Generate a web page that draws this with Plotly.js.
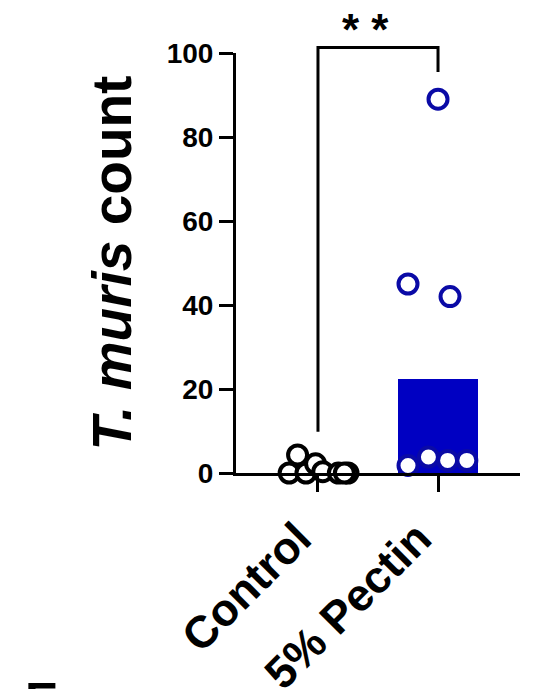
<!DOCTYPE html>
<html>
<head>
<meta charset="utf-8">
<script src="https://cdn.plot.ly/plotly-3.0.1.min.js"></script>
<style>
  html, body { margin: 0; padding: 0; background: #fff; }
  #chart { width: 539px; height: 689px; }
</style>
</head>
<body>
<div id="chart"></div>
<script>
// group labels and bar heights (means)
const groups = ['Control', '5% Pectin'];
const barMeans = [0.8, 22.5];

// individual animals
const controlCounts = [4.3, 0, 0, 2.2, 0.3, 0, 0, 0];
const controlJitter = [-0.17, -0.24, -0.1, -0.02, 0.04, 0.17, 0.25, 0.22];
const pectinCounts = [89, 45, 42, 1.8, 3.8, 3, 3];
const pectinJitter = [0, -0.25, 0.1, -0.25, -0.08, 0.08, 0.24];

const blue = '#0000c2';
const ringBlue = '#0a0aa6';
const font = 'Liberation Sans, Arial, sans-serif';

const xRange = [-0.683, 1.683];
const yRange = [0, 100];

function pointTrace(counts, jitter, groupIdx, lineColor) {
    return {
        type: 'scatter',
        mode: 'markers',
        x: counts.map((_, i) => groupIdx + jitter[i]),
        y: counts,
        cliponaxis: false,
        hoverinfo: 'y',
        marker: {
            symbol: 'circle',
            size: 19,
            color: '#ffffff',
            line: { color: lineColor, width: 4 }
        }
    };
}

const data = [
    {
        type: 'bar',
        x: groups.map((_, i) => i),
        y: barMeans,
        width: 0.667,
        marker: { color: ['#ffffff', blue], line: { width: 0 } },
        hoverinfo: 'y'
    },
    pointTrace(controlCounts, controlJitter, 0, '#000000'),
    pointTrace(pectinCounts, pectinJitter, 1, ringBlue)
];

// paper coordinates for the significance bracket (drawn above the axis range)
const px = v => (v - xRange[0]) / (xRange[1] - xRange[0]);
const py = v => (v - yRange[0]) / (yRange[1] - yRange[0]);
const bracket = `M ${px(0)} ${py(9.8)} L ${px(0)} ${py(101.3)} L ${px(1)} ${py(101.3)} L ${px(1)} ${py(95.5)}`;

const layout = {
    width: 539,
    height: 689,
    margin: { l: 236, r: 19, t: 53, b: 216 },
    paper_bgcolor: '#ffffff',
    plot_bgcolor: '#ffffff',
    showlegend: false,
    bargap: 0,
    font: { family: font, color: '#000000' },
    xaxis: {
        range: xRange,
        showgrid: false,
        zeroline: false,
        showline: true,
        linecolor: '#000000',
        linewidth: 3,
        ticks: 'outside',
        ticklen: 16,
        tickwidth: 3,
        tickcolor: '#000000',
        tickvals: groups.map((_, i) => i),
        ticktext: groups,
        tickangle: -45,
        ticklabelstandoff: 2,
        ticklabelshift: -20,
        tickfont: { family: font, size: 45, weight: 'bold', color: '#000000' }
    },
    yaxis: {
        range: yRange,
        showgrid: false,
        zeroline: false,
        showline: true,
        linecolor: '#000000',
        linewidth: 3,
        ticks: 'outside',
        ticklen: 14,
        tickwidth: 3,
        tickcolor: '#000000',
        tickvals: [0, 20, 40, 60, 80, 100],
        tickfont: { family: font, size: 28, weight: 'bold', color: '#000000' },
        title: {
            text: '<i>T. muris</i> count',
            standoff: 18,
            font: { family: font, size: 55, weight: 'bold', color: '#000000' }
        }
    },
    shapes: [{
        type: 'path',
        xref: 'paper',
        yref: 'paper',
        path: bracket,
        line: { color: '#000000', width: 3 }
    }],
    annotations: [
        {
            text: '* *',
            xref: 'paper',
            yref: 'paper',
            x: px(0.4),
            y: py(105.7),
            xanchor: 'center',
            yanchor: 'middle',
            showarrow: false,
            font: { family: font, size: 44, weight: 'bold', color: '#000000' }
        },
        {
            text: 'E',
            xref: 'paper',
            yref: 'paper',
            x: (23 - 236) / 284,
            y: (473 - 671) / 420,
            xanchor: 'left',
            yanchor: 'top',
            showarrow: false,
            font: { family: font, size: 50, weight: 'bold', color: '#000000' }
        }
    ]
};

Plotly.newPlot('chart', data, layout, { displayModeBar: false, staticPlot: true });
</script>
</body>
</html>
